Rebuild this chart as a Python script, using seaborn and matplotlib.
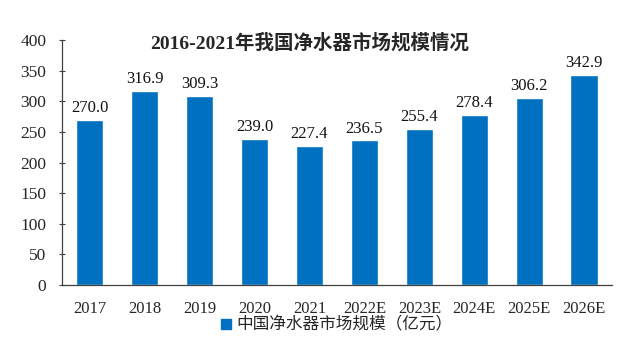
import matplotlib
matplotlib.use("Agg")
import matplotlib.pyplot as plt
import seaborn as sns
import pandas as pd

years = ["2017", "2018", "2019", "2020", "2021", "2022E", "2023E", "2024E", "2025E", "2026E"]
values = [270.0, 316.9, 309.3, 239.0, 227.4, 236.5, 255.4, 278.4, 306.2, 342.9]
series_name = "中国净水器市场规模（亿元）"
title = "2016-2021年我国净水器市场规模情况"

sns.set_style("white")
plt.rcParams['font.family'] = ['Liberation Serif', 'Noto Sans CJK SC']

df = pd.DataFrame({"year": years, "value": values, "series": series_name})

fig = plt.figure(figsize=(6.21, 3.43), dpi=100)
ax = fig.add_axes([0.1, 0.169, 0.885, 0.714])
color = "#0070C0"
sns.barplot(data=df, x="year", y="value", hue="series", palette=[color],
            width=0.5, ax=ax, saturation=1, legend=False)

for p, v in zip(ax.patches, values):
    ax.text(p.get_x() + p.get_width() / 2, v + 6, f"{v:.1f}", ha="center", va="bottom",
            fontsize=12, color="#111111")

ax.set_ylim(0, 400)
ax.set_yticks(range(0, 401, 50))
ax.set_xlim(-0.5, len(years) - 0.5)
ax.set_xlabel("")
ax.set_ylabel("")
for s in ["top", "right"]:
    ax.spines[s].set_visible(False)
for s in ["left", "bottom"]:
    ax.spines[s].set_color("#404040")
    ax.spines[s].set_linewidth(0.9)
ax.tick_params(axis="y", which="both", left=True, direction="inout", length=5, width=0.8,
               color="#404040", labelsize=12.5, pad=9)
ax.tick_params(axis="x", bottom=False, labelsize=12, pad=8)

fig.text(0.498, 0.875, title, ha="center", va="center", fontsize=14, fontweight="bold")

from matplotlib.patches import Patch
handles = [Patch(facecolor=color, edgecolor=color)]
fig.legend(handles, [series_name], loc="center", bbox_to_anchor=(0.542, 0.05), frameon=False,
           fontsize=12, handlelength=0.6, handleheight=0.6, handletextpad=0.3)

fig.savefig("out.png", dpi=100)
